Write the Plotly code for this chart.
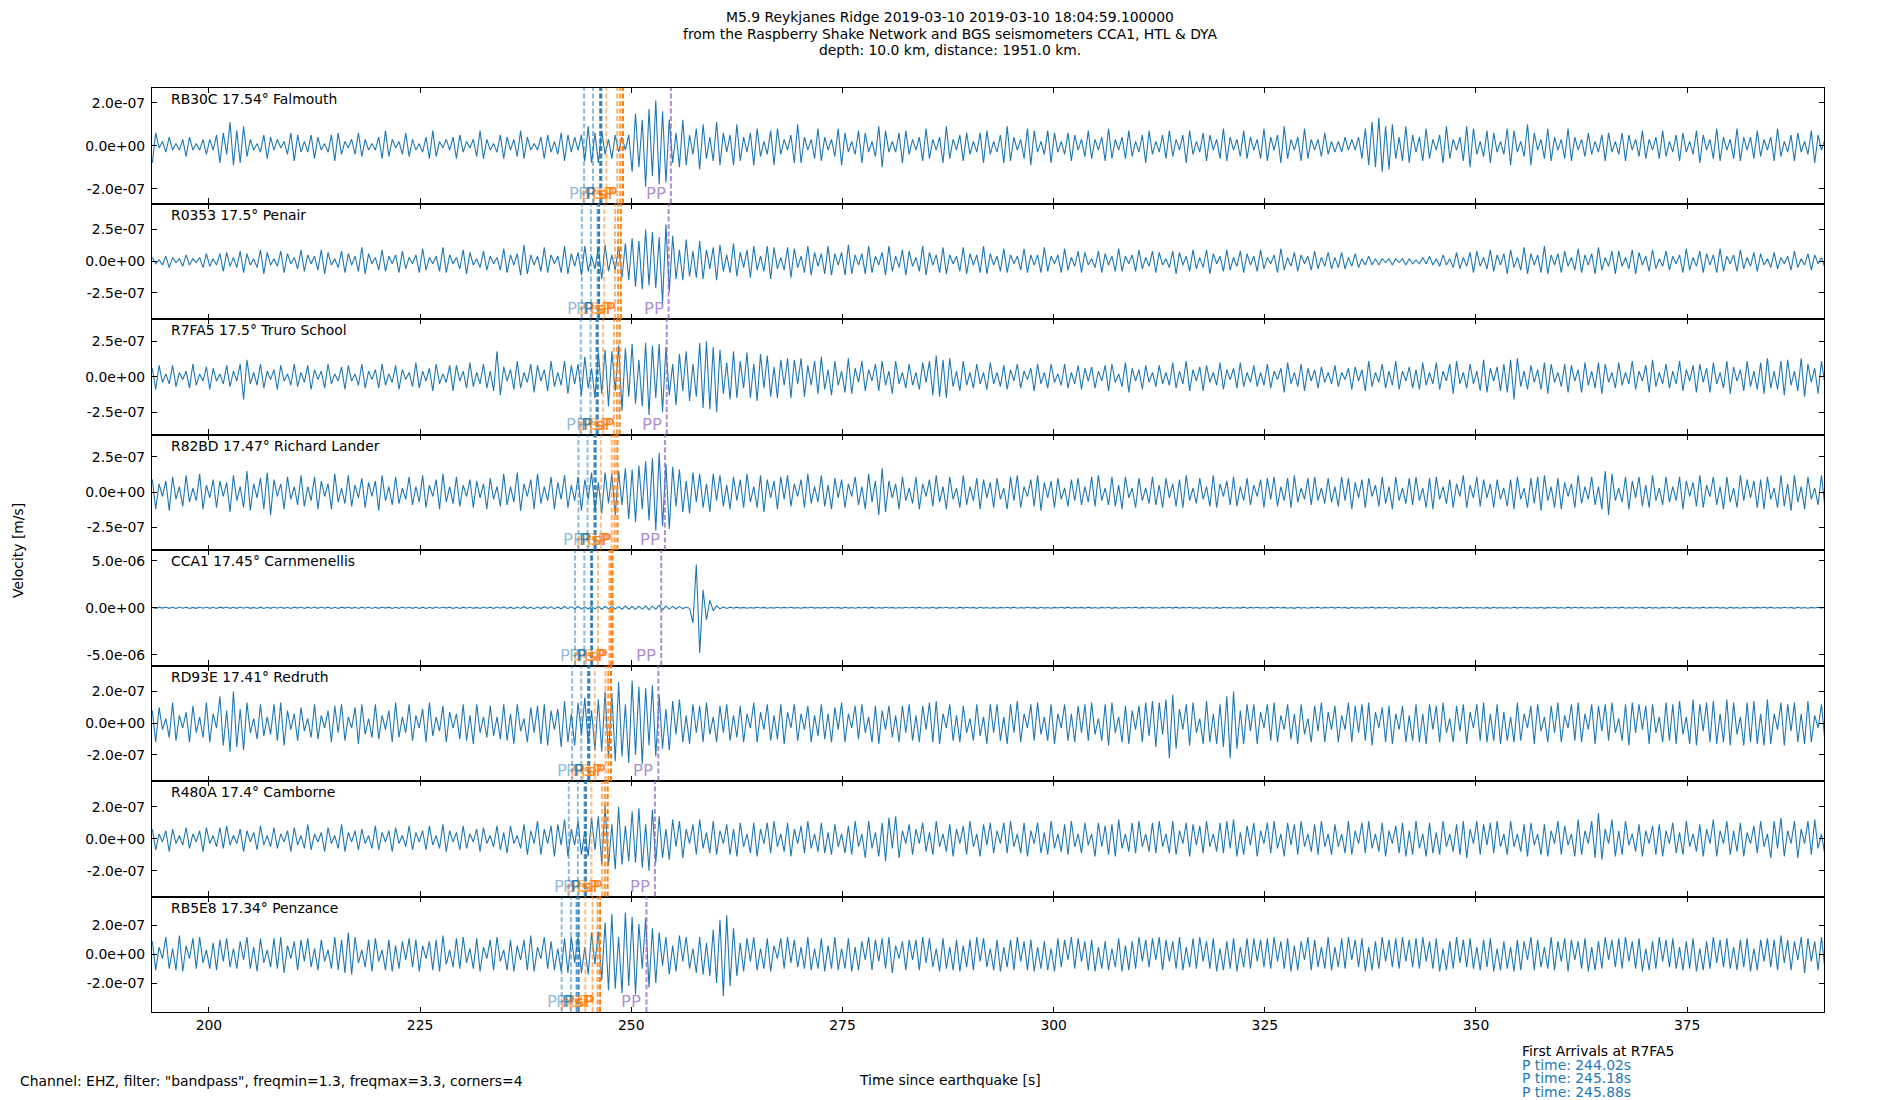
import numpy as np
import plotly.graph_objects as go

W, H = 1900, 1100
OFF = 8         # the page body margin shifts the figure by 8 px; positions below are compensated
T0 = 193.3      # time of first sample [s]
DT = 0.4        # sample spacing [s]
SEG = 10.0      # each row of samples covers 10 s
UNIT = 1e-8     # stored amplitudes are in units of 1e-8 m/s

station_labels = ["RB30C 17.54° Falmouth", "R0353 17.5° Penair", "R7FA5 17.5° Truro School",
                  "R82BD 17.47° Richard Lander", "CCA1 17.45° Carnmenellis", "RD93E 17.41° Redruth",
                  "R480A 17.4° Camborne", "RB5E8 17.34° Penzance"]

x_ticks = [200, 225, 250, 275, 300, 325, 350, 375]
y_tick_step = [2.0e-7, 2.5e-7, 2.5e-7, 2.5e-7, 5.0e-6, 2.0e-7, 2.0e-7, 2.0e-7]
y_half_range = [26.8e-8, 45.5e-8, 40.7e-8, 40.9e-8, 614e-8, 36.4e-8, 36.0e-8, 40.1e-8]

rb30c = [
 [-8,6,-1,2,-3,4,-2,1,-2,3,-5,4,-2,1,-2,3,-4,3,-2,5,-8,6,-4,11,-9],
 [7,-8,9,-5,3,-2,1,-3,5,-6,4,-2,3,-1,2,-4,6,-7,5,-3,2,-3,5,-6,4],
 [-2,1,-3,5,-7,6,-4,2,-1,3,-4,6,-5,3,-2,1,-2,4,-6,7,-5,3,-1,2,-4],
 [6,-5,3,-2,1,-3,4,-6,7,-5,2,-1,3,-2,4,-6,5,-3,2,-1,3,-5,7,-6,3],
 [-2,1,-3,5,-6,4,-2,3,-5,7,-6,4,-2,1,-2,4,-6,5,-3,2,-4,6,-7,5,-3],
 [4,-2,5,-7,9,-8,6,-8,7,-4,3,-6,5,-3,4,-2,5,-12,15,-10,12,-19,17,-14,21],
 [-18,16,-17,12,-8,6,-10,12,-9,5,-4,8,-11,10,-6,4,-7,11,-9,6,-3,5,-9,10,-7],
 [4,-3,6,-9,8,-5,2,-4,7,-9,8,-4,3,-2,5,-8,10,-8,4,-2,3,-6,8,-7,4],
 [-2,3,-5,8,-9,6,-3,2,-4,7,-8,6,-3,2,-5,9,-10,7,-3,2,-3,6,-8,7,-4],
 [3,-2,4,-7,8,-6,3,-2,4,-8,9,-6,3,-2,5,-7,6,-4,2,-3,6,-8,7,-4,2],
 [-3,5,-8,9,-7,4,-2,3,-6,8,-9,7,-3,2,-4,7,-8,6,-3,2,-4,6,-7,5,-2],
 [3,-5,7,-6,3,-2,4,-7,8,-6,3,-2,4,-6,7,-5,2,-3,5,-8,7,-4,2,-3,5],
 [-6,7,-5,3,-2,5,-8,7,-4,2,-3,6,-7,5,-2,3,-6,8,-7,4,-2,3,-5,7,-6],
 [4,-2,3,-6,8,-7,4,-2,5,-8,9,-6,3,-2,4,-7,8,-6,3,-2,3,-5,6,-4,2],
 [-3,2,-3,4,-2,3,-2,4,-6,8,-9,11,-10,13,-12,9,-11,10,-6,4,-7,9,-8,5,-3],
 [4,-7,8,-6,3,-2,5,-8,9,-6,3,-2,4,-7,9,-10,8,-4,2,-5,7,-8,6,-3,2],
 [-4,8,-9,7,-3,2,-5,10,-9,6,-2,3,-6,8,-7,4,-2,3,-6,8,-7,4,-2,3,-5],
 [6,-4,2,-3,5,-7,6,-3,2,-4,6,-7,5,-2,3,-5,7,-6,3,-2,4,-6,7,-5,2],
 [-3,5,-7,6,-3,2,-4,7,-8,5,-2,3,-6,8,-7,4,-2,3,-6,8,-7,4,-2,4,-6],
 [7,-5,3,-2,4,-7,8,-5,2,-3,5,-7,6,-3,2,-4,7,-8,5,-2,3,-5,6,-4,2],
]

r0353 = [
 [3,-2,1,-3,4,-5,3,-1,2,-4,5,-3,2,-1,3,-5,6,-4,2,-3,6,-8,7,-4,3],
 [-5,8,-9,6,-3,2,-5,9,-10,7,-3,2,-4,8,-9,6,-2,3,-6,9,-8,5,-2,4,-7],
 [9,-10,7,-3,2,-5,8,-9,6,-3,4,-8,11,-10,6,-2,3,-7,9,-8,4,-2,5,-9,8],
 [-6,3,-2,5,-9,10,-7,3,-2,4,-8,11,-9,5,-2,3,-6,9,-10,7,-3,2,-5,8,-7],
 [4,-2,3,-7,10,-9,5,-3,6,-11,13,-10,5,-3,4,-8,11,-9,5,-2,4,-9,12,-10,6],
 [-4,7,-11,12,-8,4,-6,11,-14,13,-8,5,-7,12,-13,14,-15,18,-20,16,-22,25,-19,23,-21],
 [19,-33,29,-24,20,-14,9,-15,17,-12,8,-13,16,-14,9,-6,11,-15,13,-8,5,-9,14,-12,7],
 [-5,9,-13,12,-7,4,-8,12,-14,11,-6,3,-7,11,-13,10,-5,4,-9,12,-11,7,-4,6,-10],
 [12,-11,6,-3,7,-11,13,-10,5,-3,6,-10,12,-9,4,-3,7,-11,12,-8,4,-5,9,-11,8],
 [-4,3,-8,12,-11,7,-3,5,-9,11,-10,5,-2,4,-8,11,-10,6,-3,5,-9,12,-10,6,-3],
 [4,-8,10,-9,5,-2,4,-7,10,-9,5,-3,5,-9,11,-8,4,-2,5,-9,10,-7,3,-4,8],
 [-9,7,-3,2,-5,8,-9,6,-3,4,-8,10,-8,4,-2,5,-8,9,-6,3,-4,8,-9,7,-3],
 [2,-5,8,-10,7,-3,4,-8,9,-6,3,-5,9,-10,6,-2,4,-8,9,-7,3,-4,8,-9,6],
 [-3,4,-8,9,-6,3,-2,5,-9,10,-7,3,-4,7,-8,5,-2,4,-7,8,-6,3,-4,7,-6],
 [3,-5,7,-6,3,-4,6,-5,2,-3,4,-3,2,-3,2,-1,2,-3,2,-1,2,-3,2,-2,1],
 [-2,3,-2,4,-3,2,-4,5,-3,2,-5,7,-6,3,-4,7,-9,8,-4,3,-6,9,-8,5,-3],
 [6,-10,9,-5,3,-7,11,-10,6,-3,5,-9,12,-10,5,-3,6,-9,8,-4,3,-7,10,-9,5],
 [-3,6,-10,11,-7,3,-4,8,-10,8,-4,3,-6,9,-10,7,-3,4,-8,9,-6,2,-4,8,-7],
 [4,-2,5,-9,10,-7,3,-4,8,-9,6,-3,5,-9,10,-8,4,-2,5,-8,9,-6,3,-4,7],
 [-8,6,-3,2,-5,7,-6,3,-2,4,-7,8,-5,2,-3,6,-7,5,-2,3,-5,6,-4,2,-3],
]

r7fa5 = [
 [6,-9,8,-4,2,-5,8,-7,3,-2,4,-8,9,-6,2,-3,7,-9,6,-3,2,-5,8,-7,4],
 [-3,9,-16,12,-5,3,-6,9,-8,4,-2,5,-9,8,-3,2,-6,9,-7,3,-4,8,-9,5,-2],
 [4,-8,9,-5,2,-3,7,-9,8,-3,2,-6,9,-8,4,-2,5,-8,9,-6,2,-4,8,-9,5],
 [-2,3,-7,10,-8,4,-3,6,-10,9,-5,2,-4,8,-10,8,-3,4,-8,10,-7,3,-5,9,-8],
 [4,-10,18,-13,7,-3,5,-9,11,-8,3,-4,9,-11,8,-3,5,-10,11,-7,3,-6,11,-12,8],
 [-5,9,-13,14,-8,6,-15,17,-12,19,-21,18,-10,22,-24,20,-14,23,-19,12,-21,24,-27,22,-15],
 [23,-25,21,-13,9,-20,16,-10,18,-17,9,-14,24,-22,25,-23,21,-25,19,-12,10,-16,18,-15,11],
 [-8,17,-15,9,-17,16,-8,15,-14,7,-15,12,-6,13,-15,12,-5,13,-14,8,-6,11,-12,14,-9],
 [5,-13,11,-6,4,-11,13,-12,6,-4,11,-10,5,-3,9,-10,11,-6,4,-12,11,-5,3,-8,9],
 [-6,3,-9,10,-4,11,-13,15,-14,12,-15,13,-7,4,-10,11,-6,3,-8,9,-5,3,-9,10,-5],
 [3,-7,8,-9,5,-3,9,-8,4,-2,6,-10,9,-5,3,-8,9,-4,2,-6,9,-8,3,-5,8],
 [-9,6,-3,7,-8,4,-3,8,-10,9,-4,2,-7,10,-11,6,-3,5,-9,8,-4,3,-7,8,-5],
 [3,-6,10,-8,4,-5,11,-10,5,-3,7,-10,8,-4,3,-6,10,-9,5,-2,6,-8,10,-7,3],
 [-4,8,-7,3,-6,9,-8,4,-2,6,-11,10,-5,3,-7,9,-10,6,-3,5,-8,7,-4,3,-5],
 [8,-7,3,-2,6,-9,7,-3,5,-10,11,-7,3,-4,9,-8,4,-6,11,-9,4,-3,7,-8,5],
 [-9,10,-6,3,-5,10,-9,4,-3,9,-12,11,-5,3,-8,9,-5,4,-10,12,-11,6,-3,7,-10],
 [9,-11,12,-16,13,-7,4,-9,8,-4,5,-9,10,-12,9,-4,3,-7,9,-11,8,-3,5,-11,10],
 [-6,4,-8,10,-12,9,-4,3,-8,10,-6,3,-5,11,-9,4,-3,8,-11,12,-7,3,-5,9,-8],
 [4,-5,11,-10,5,-3,8,-11,9,-4,6,-11,10,-5,3,-8,11,-12,7,-3,5,-10,11,-7,4],
 [-9,10,-12,13,-8,4,-9,11,-13,12,-6,4,-10,13,-14,9,-4,6,-12,11,-5,4,-11,10,-6],
]

r82bd = [
 [9,-12,6,-3,8,-13,11,-5,4,-10,12,-7,3,-6,13,-12,5,-4,9,-11,8,-3,7,-14,12],
 [-6,4,-11,15,-13,6,-4,10,-12,14,-16,9,-3,6,-12,11,-5,4,-9,12,-10,4,-6,11,-12],
 [8,-3,6,-12,13,-7,3,-8,12,-10,5,-4,10,-11,7,-3,8,-13,12,-6,4,-9,11,-8,3],
 [-5,11,-9,4,-7,12,-11,5,-3,9,-12,13,-7,4,-8,11,-10,5,-3,9,-11,8,-4,6,-12],
 [10,-5,4,-10,13,-9,4,-7,14,-13,6,-3,9,-12,13,-8,4,-6,11,-12,7,-5,12,-11,5],
 [-6,11,-13,9,-5,14,-13,7,-15,14,-8,13,-16,15,-9,17,-19,16,-21,19,-12,22,-20,24,-27],
 [28,-24,20,-26,18,-10,16,-14,8,-15,14,-7,13,-11,6,-14,13,-6,12,-10,5,-12,11,-6,9],
 [-11,13,-7,4,-11,12,-14,9,-4,8,-12,11,-5,12,-10,6,-3,9,-11,13,-8,4,-7,12,-10],
 [5,-12,10,-4,9,-11,6,-3,11,-9,4,-12,13,-7,8,-16,17,-14,8,-4,6,-12,11,-6,3],
 [-8,11,-12,6,-3,9,-10,12,-7,4,-12,11,-5,3,-11,12,-9,4,-6,10,-12,9,-4,7,-11],
 [10,-5,3,-12,11,-6,12,-11,4,-3,9,-10,12,-13,7,-4,8,-11,10,-5,3,-10,9,-6,10],
 [-9,4,-7,11,-10,12,-6,3,-9,11,-10,5,-12,11,-4,3,-11,10,-6,3,-8,11,-9,5,-11],
 [10,-4,6,-10,9,-11,12,-6,3,-8,10,-5,4,-10,12,-11,6,-3,8,-9,11,-10,4,-6,10],
 [-9,5,-3,9,-11,10,-5,11,-10,4,-6,10,-11,12,-7,3,-5,10,-9,11,-6,3,-8,10,-7],
 [4,-10,11,-6,10,-12,7,-4,9,-11,10,-3,5,-10,11,-8,4,-12,11,-6,3,-8,10,-9,11],
 [-6,3,-11,10,-12,11,-5,4,-8,9,-11,6,-3,12,-11,5,-4,11,-10,9,-4,6,-11,9,-5],
 [3,-10,9,-12,11,-5,3,-11,10,-8,11,-13,12,-6,4,-11,10,-12,7,-3,6,-11,12,-8,4],
 [-5,11,-9,4,-12,15,-16,13,-6,3,-7,11,-12,8,-4,11,-10,5,-11,12,-6,3,-9,11,-7],
 [4,-6,11,-12,8,-3,7,-10,12,-11,5,-3,11,-9,4,-12,11,-7,3,-11,12,-6,9,-4,8],
 [-11,9,-12,11,-5,3,-11,12,-10,6,-13,12,-7,4,-12,11,-5,3,-9,12,-10,6,-4,10,-11],
]

cca1 = [
 [5,-7,6,-4,8,-6,5,-8,7,-5,6,-7,4,-6,8,-5,7,-6,5,-8,6,-4,7,-6,5],
 [-6,8,-5,7,-6,4,-7,6,-8,5,-6,7,-5,8,-6,5,-7,6,-4,7,-8,6,-5,7,-6],
 [7,-5,6,-8,5,-7,6,-4,8,-6,5,-7,6,-5,8,-7,5,-6,7,-4,6,-8,5,-6,7],
 [-5,7,-6,5,-8,6,-7,5,-6,8,-5,7,-4,6,-7,5,-8,6,-5,7,-6,4,-7,8,-5],
 [6,-8,7,-5,9,-7,6,-10,8,-7,11,-9,8,-12,10,-9,11,-8,10,-12,9,-11,13,-10,12],
 [-11,14,-12,10,-13,15,-12,14,-16,13,-11,15,-14,12,-16,18,-15,13,-17,16,-14,18,-20,17,-15],
 [26,-22,18,-14,15,-11,12,-9,8,-6,-160,460,-480,190,-130,80,-30,20,-12,9,-7,6,-5,6,-4],
 [4,-5,3,-4,5,-3,4,-5,3,-4,5,-3,4,-3,5,-4,3,-5,4,-3,5,-4,3,-4,5],
 [-4,5,-3,4,-6,5,-4,3,-5,4,-3,5,-4,6,-5,3,-4,5,-3,4,-5,3,-4,5,-3],
 [5,-4,6,-5,3,-4,5,-6,4,-3,5,-4,3,-5,6,-4,5,-3,4,-6,5,-4,3,-5,4],
 [-5,4,-3,5,-4,6,-5,3,-4,5,-3,4,-6,5,-4,3,-5,4,-3,5,-4,6,-5,4,-3],
 [4,-5,6,-4,3,-5,4,-3,5,-6,4,-5,3,-4,5,-3,6,-5,4,-3,5,-4,3,-5,4],
 [-3,5,-4,6,-5,4,-3,5,-4,3,-6,5,-4,3,-5,4,-6,5,-3,4,-5,3,-4,6,-5],
 [4,-3,5,-4,3,-5,6,-4,5,-3,4,-5,3,-6,5,-4,3,-5,4,-3,6,-5,4,-3,5],
 [-4,5,-3,4,-6,5,-4,3,-5,4,-3,6,-5,4,-3,5,-4,3,-6,5,-4,3,-5,4,-3],
 [5,-4,3,-5,4,-6,5,-3,4,-5,3,-4,6,-5,4,-3,5,-4,3,-5,4,-6,5,-4,3],
 [-4,3,-5,6,-4,5,-3,4,-5,3,-4,5,-6,4,-3,5,-4,3,-5,6,-4,5,-3,4,-5],
 [3,-5,4,-3,6,-5,4,-3,5,-4,6,-5,3,-4,5,-3,4,-6,5,-4,3,-5,4,-3,5],
 [-5,4,-6,5,-3,4,-5,3,-4,6,-5,4,-3,5,-4,3,-6,5,-4,3,-5,4,-3,5,-4],
 [4,-3,5,-4,6,-5,3,-4,5,-3,4,-6,5,-4,3,-5,4,-3,5,-4,6,-5,3,-4,5],
]

rd93e = [
 [8,-12,10,-4,3,-9,13,-11,5,-3,7,-12,11,-6,4,-9,13,-12,6,-3,17,-14,8,-18,20],
 [-15,9,-17,13,-6,3,-10,12,-8,4,-7,12,-11,13,-14,8,-4,6,-11,10,-5,3,-9,12,-10],
 [5,-3,8,-12,11,-6,12,-11,4,-3,10,-13,12,-7,3,-9,12,-10,5,-4,8,-12,13,-9,4],
 [-6,12,-11,5,-3,9,-12,13,-8,4,-5,11,-12,7,-3,6,-10,12,-11,5,-13,12,-6,4,-9],
 [11,-8,4,-10,12,-11,6,-13,12,-5,3,-12,10,-6,11,-13,12,-14,8,-4,9,-15,14,-12,6],
 [-14,13,-7,16,-13,8,-17,15,-18,20,-22,19,-24,26,-21,12,-25,27,-20,23,-26,22,-14,24,-21],
 [18,-16,9,-17,14,-7,15,-12,5,-13,12,-6,11,-12,13,-7,4,-12,11,-6,12,-11,5,-9,11],
 [-12,6,-3,13,-12,7,-4,12,-11,5,-10,12,-13,7,-3,12,-11,6,-4,11,-12,5,-8,12,-10],
 [6,-12,10,-4,13,-12,6,-3,11,-10,12,-6,4,-12,11,-13,8,-4,11,-9,5,-12,11,-6,12],
 [-11,5,-12,11,-4,13,-12,14,-13,6,-3,12,-11,5,-12,11,-6,3,-11,12,-8,4,-13,12,-6],
 [12,-11,4,-13,12,-6,14,-12,6,-3,12,-11,13,-7,4,-11,12,-13,6,-3,12,-11,6,-12,11],
 [-6,12,-11,13,-7,3,-11,12,-14,13,-6,4,-12,11,-13,8,-4,11,-12,13,-8,14,-15,13,-7],
 [15,-22,18,-16,9,-4,12,-14,13,-6,3,-13,14,-12,6,-13,12,-15,17,-22,20,-16,8,-13,12],
 [-5,12,-13,7,-3,12,-11,13,-12,5,-4,12,-10,6,-13,12,-7,3,-12,11,-5,13,-12,7,-4],
 [11,-12,5,-4,13,-12,11,-6,12,-11,13,-14,7,-3,10,-12,11,-13,6,-4,11,-12,5,-11,12],
 [-12,6,-13,12,-4,11,-12,13,-6,3,-12,11,-5,12,-13,7,-3,12,-11,13,-12,6,-11,12,-13],
 [7,-11,4,-12,13,-11,6,-3,11,-13,12,-5,4,-12,11,-6,13,-12,5,-3,12,-11,13,-12,6],
 [-4,12,-13,11,-5,12,-11,13,-6,3,-11,12,-14,13,-6,12,-4,11,-13,12,-6,4,-12,13,-11],
 [12,-13,14,-7,4,-13,15,-14,12,-5,13,-12,14,-13,6,-12,15,-14,13,-7,4,-14,13,-12,14],
 [-13,6,-14,15,-13,6,-4,13,-14,12,-5,13,-12,6,-13,14,-12,5,-3,12,-11,13,-6,11,-10],
]

r480a = [
 [6,-7,3,-2,5,-8,6,-3,2,-4,7,-6,3,-2,5,-8,7,-3,2,-5,7,-6,8,-4,2],
 [-3,6,-8,5,-2,4,-7,8,-4,2,-5,7,-6,3,-2,5,-8,7,-4,2,-6,9,-7,3,-2],
 [4,-8,7,-3,2,-6,9,-8,4,-2,5,-7,6,-3,2,-6,8,-7,4,-2,5,-8,7,-3,2],
 [-5,8,-7,4,-2,5,-7,8,-4,2,-6,9,-8,5,-2,4,-7,8,-6,3,-2,6,-8,7,-3],
 [2,-5,8,-7,4,-9,8,-3,2,-6,9,-10,5,-3,11,-10,6,-3,8,-11,9,-4,12,-11,6],
 [-4,11,-10,5,-11,13,-7,14,-16,21,-17,9,-19,20,-16,8,-14,17,-15,19,-18,9,-20,18,-15],
 [14,-12,6,-13,12,-5,11,-12,6,-3,9,-10,12,-6,4,-9,11,-10,5,-3,9,-10,6,-11,10],
 [-5,3,-9,10,-11,6,-3,10,-9,11,-5,3,-8,10,-11,6,-3,8,-9,11,-6,3,-8,10,-9],
 [4,-10,9,-5,3,-9,8,-10,11,-5,3,-12,11,-6,4,-11,10,-14,13,-6,14,-12,5,-3,9],
 [-10,6,-3,10,-8,4,-10,11,-5,3,-8,9,-11,6,-3,8,-10,11,-5,3,-11,9,-4,10,-9],
 [5,-3,10,-9,11,-5,3,-9,10,-11,5,-3,10,-9,4,-10,11,-6,3,-8,9,-10,11,-5,3],
 [-9,10,-4,3,-11,10,-5,8,-10,9,-11,12,-6,3,-8,10,-9,11,-5,3,-8,10,-9,11,-5],
 [3,-9,11,-10,5,-3,10,-11,9,-4,8,-9,11,-5,3,-8,10,-9,11,-6,12,-11,4,-10,8],
 [-4,10,-11,5,-3,10,-9,11,-6,3,-11,10,-4,9,-10,11,-5,3,-8,9,-10,11,-5,3,-10],
 [9,-5,3,-9,11,-10,5,-3,10,-9,11,-6,3,-8,10,-11,5,-3,8,-9,10,-11,5,-10,11],
 [-6,3,-11,10,-9,4,-10,11,-5,3,-8,9,-10,11,-12,6,-3,11,-10,9,-4,10,-9,11,-5],
 [3,-10,11,-5,3,-8,9,-11,10,-4,3,-10,9,-11,5,-3,11,-10,8,-4,3,-11,12,-10,5],
 [-3,11,-12,16,-13,6,-3,12,-11,5,-10,11,-4,3,-8,9,-11,5,-3,8,-10,9,-11,5,-3],
 [10,-9,4,-10,11,-5,3,-8,9,-11,6,-3,12,-11,5,-3,11,-10,5,-8,10,-11,4,-3,8],
 [-9,11,-5,3,-12,11,-6,13,-11,5,-3,11,-12,6,-3,11,-10,12,-6,3,-10,8,-11,10,-5],
]

rb5e8 = [
 [9,-11,5,-3,12,-10,4,-11,13,-12,6,-3,11,-10,12,-6,3,-10,8,-11,10,-5,11,-9,4],
 [-10,9,-4,12,-10,5,-12,11,-6,3,-9,11,-10,12,-13,6,-3,9,-11,10,-5,11,-9,4,-11],
 [10,-5,3,-10,12,-11,10,-13,15,-14,12,-6,3,-9,10,-12,11,-5,3,-11,10,-12,6,-10,9],
 [-4,11,-9,10,-12,6,-3,9,-11,10,-12,13,-7,3,-9,11,-10,12,-6,4,-10,11,-12,5,-3],
 [10,-11,12,-5,3,-11,10,-12,6,-4,10,-11,13,-12,5,-3,12,-10,9,-11,4,-12,11,-13,12],
 [-6,12,-13,5,-14,15,-7,16,-18,22,-25,28,-24,12,-27,29,-22,26,-28,21,-10,25,-23,18,-20],
 [15,-8,12,-14,6,-12,13,-5,12,-10,4,-13,12,-14,8,-15,17,-20,24,-29,27,-22,18,-15,8],
 [-12,11,-5,12,-11,4,-10,11,-12,6,-3,11,-10,12,-6,10,-9,5,-10,12,-11,4,-10,11,-12],
 [6,-10,12,-11,4,-10,11,-12,5,-11,9,-4,12,-11,10,-5,11,-10,12,-13,6,-3,9,-11,10],
 [-4,10,-11,12,-6,11,-9,4,-12,11,-10,5,-11,10,-12,6,-9,10,-11,12,-5,11,-9,4,-11],
 [10,-12,5,-9,10,-11,12,-5,9,-11,10,-12,5,-10,9,-11,4,-12,11,-9,10,-4,12,-10,11],
 [-5,9,-11,10,-12,5,-10,9,-11,4,-9,11,-12,6,-11,9,-10,12,-5,10,-9,11,-4,12,-11],
 [10,-5,9,-10,12,-11,5,-9,11,-10,12,-5,9,-10,11,-12,4,-11,9,-10,11,-12,5,-9,11],
 [-10,11,-5,10,-9,11,-10,12,-5,9,-10,11,-12,6,-11,9,-4,12,-11,10,-9,5,-10,12,-11],
 [5,-9,11,-10,12,-4,10,-9,11,-12,5,-11,9,-10,12,-5,10,-9,11,-10,12,-5,10,-9,11],
 [-10,12,-5,9,-10,11,-12,4,-11,9,-10,12,-6,10,-9,11,-10,5,-11,10,-9,11,-12,4,-11],
 [9,-10,5,-12,10,-11,9,-4,12,-11,10,-9,5,-10,12,-11,9,-5,11,-12,10,-4,9,-10,11],
 [-12,5,-11,9,-10,12,-4,10,-9,11,-10,12,-5,9,-10,11,-12,4,-11,9,-10,12,-5,10,-9],
 [11,-10,5,-11,9,-10,11,-12,4,-11,9,-10,12,-6,10,-9,11,-10,5,-11,10,-9,11,-12,4],
 [-11,10,-5,11,-9,10,-11,13,-6,10,-11,9,-4,12,-13,11,-5,9,-11,12,-10,5,-9,10,-12],
]

traces = [rb30c, r0353, r7fa5, r82bd, cca1, rd93e, r480a, rb5e8]

# predicted phase arrival times [s] per station
arrival_times = [
 [244.41, 245.47, 246.30, 246.45, 247.04, 248.34, 248.70, 249.02, 254.69],
 [244.15, 245.22, 246.03, 246.19, 246.80, 248.08, 248.43, 248.76, 254.42],
 [244.02, 245.18, 245.88, 246.03, 246.66, 247.94, 248.30, 248.62, 254.20],
 [243.75, 244.83, 245.63, 245.78, 246.40, 247.68, 248.03, 248.36, 253.98],
 [243.34, 244.44, 245.23, 245.35, 246.06, 247.40, 247.60, 247.79, 253.54],
 [243.00, 244.08, 244.88, 245.03, 245.68, 246.95, 247.28, 247.60, 253.20],
 [242.60, 243.68, 244.48, 244.63, 245.28, 246.55, 246.88, 247.20, 252.80],
 [241.76, 242.87, 243.53, 243.77, 244.56, 245.42, 246.01, 246.30, 251.80],
]
arrival_labels = ["P", "P", "P", "P", "pP", "pP", "sP", "sP", "PP"]
p_times = ["244.02", "245.18", "245.88"]

arrival_colors = ["rgba(31,119,180,0.5)", "rgba(31,119,180,0.5)", "rgba(31,119,180,0.75)",
                  "rgba(31,119,180,0.9)", "rgba(255,127,14,0.5)", "rgba(255,127,14,0.6)",
                  "rgba(255,127,14,0.8)", "rgba(255,127,14,1.0)", "rgba(148,103,189,0.75)"]

FONT = "DejaVu Sans"
FS = 13.9
LABEL_FS = 16.5
L, R, TOP, BOT = 152 - OFF, 1824 - OFF, 88 - OFF, 1012 - OFF
PH = (BOT - TOP) / 8
XR = [193.26, 391.2]


def px(xp):
    return (xp - OFF) / W


def py(yp):
    return 1 - (yp - OFF) / H


fig = go.Figure()
layout = {}
shapes = []
annotations = []

for i in range(8):
    n = i + 1
    sfx = "" if n == 1 else str(n)
    xa, ya = "x" + sfx, "y" + sfx
    t, v = [], []
    for k, row in enumerate(traces[i]):
        for j, val in enumerate(row):
            t.append(T0 + SEG * k + DT * j)
            v.append(val * UNIT)
    fig.add_trace(go.Scatter(x=t, y=v, mode="lines", xaxis=xa, yaxis=ya,
                             line=dict(color="#1f77b4", width=1.1),
                             showlegend=False, hoverinfo="skip"))
    top = TOP + i * PH
    bot = top + PH
    xdict = dict(domain=[L / W, R / W], anchor=ya, range=XR, tickvals=x_ticks,
                 ticks="inside", ticklen=5, tickwidth=1.1, tickcolor="black",
                 showline=True, linecolor="black", linewidth=1.1, mirror="ticks",
                 showgrid=False, zeroline=False, showticklabels=(n == 8),
                 tickfont=dict(family=FONT, size=FS, color="black"))
    if n > 1:
        xdict["matches"] = "x"
    layout["xaxis" + sfx] = xdict
    s = y_tick_step[i]
    hr = y_half_range[i]
    layout["yaxis" + sfx] = dict(domain=[1 - bot / H, 1 - top / H], anchor=xa, range=[-hr, hr],
                                 tickvals=[-s, 0, s],
                                 ticktext=[f"{-s:.1e}", f"{0:.1e}", f"{s:.1e}"],
                                 ticks="inside", ticklen=5, tickwidth=1.1, tickcolor="black",
                                 showline=True, linecolor="black", linewidth=1.1, mirror="ticks",
                                 showgrid=False, zeroline=False, ticklabelstandoff=3,
                                 tickfont=dict(family=FONT, size=FS, color="black"))
    for tt, lab, col in zip(arrival_times[i], arrival_labels, arrival_colors):
        shapes.append(dict(type="line", xref=xa, yref=ya + " domain", x0=tt, x1=tt, y0=0, y1=1,
                           line=dict(color=col, width=2, dash="5px,2.5px")))
        annotations.append(dict(x=tt, xref=xa, y=0, yref=ya + " domain", text=lab, showarrow=False,
                                xanchor="right", yanchor="bottom", xshift=-3, yshift=-1,
                                font=dict(family=FONT, size=LABEL_FS, color=col)))
    annotations.append(dict(x=(169 - OFF) / W, xref="paper", y=1 - (top + 11) / H, yref="paper",
                            text=station_labels[i], showarrow=False, xanchor="left", yanchor="middle",
                            font=dict(family=FONT, size=FS, color="black")))

title_lines = ["M5.9 Reykjanes Ridge 2019-03-10 2019-03-10 18:04:59.100000",
               "from the Raspberry Shake Network and BGS seismometers CCA1, HTL & DYA",
               "depth: 10.0 km, distance: 1951.0 km."]
for yy, txt in zip([17, 34, 50], title_lines):
    annotations.append(dict(x=px(950), xref="paper", y=py(yy), yref="paper", text=txt, showarrow=False,
                            xanchor="center", yanchor="middle", font=dict(family=FONT, size=FS, color="black")))

annotations.append(dict(x=px(18), xref="paper", y=py(551), yref="paper", text="Velocity [m/s]",
                        showarrow=False, textangle=-90, xanchor="center", yanchor="middle",
                        font=dict(family=FONT, size=FS, color="black")))
annotations.append(dict(x=px(18), xref="paper", y=py(1081), yref="paper",
                        text='Channel: EHZ, filter: "bandpass", freqmin=1.3, freqmax=3.3, corners=4',
                        showarrow=False, xanchor="left", yanchor="middle",
                        font=dict(family=FONT, size=FS, color="black")))
annotations.append(dict(x=px(950), xref="paper", y=py(1080), yref="paper", text="Time since earthquake [s]",
                        showarrow=False, xanchor="center", yanchor="middle",
                        font=dict(family=FONT, size=FS, color="black")))
annotations.append(dict(x=px(1520), xref="paper", y=py(1051), yref="paper", text="First Arrivals at R7FA5",
                        showarrow=False, xanchor="left", yanchor="middle",
                        font=dict(family=FONT, size=FS, color="black")))
for yy, pt in zip([1065, 1078.3, 1091.7], p_times):
    annotations.append(dict(x=px(1520), xref="paper", y=py(yy), yref="paper", text=f"P time: {pt}s",
                            showarrow=False, xanchor="left", yanchor="middle",
                            font=dict(family=FONT, size=FS, color="#1f77b4")))

fig.update_layout(width=W, height=H, autosize=False, margin=dict(l=0, r=0, t=0, b=0),
                  paper_bgcolor="white", plot_bgcolor="white", showlegend=False,
                  shapes=shapes, annotations=annotations, **layout)

fig.write_html("out.html")
